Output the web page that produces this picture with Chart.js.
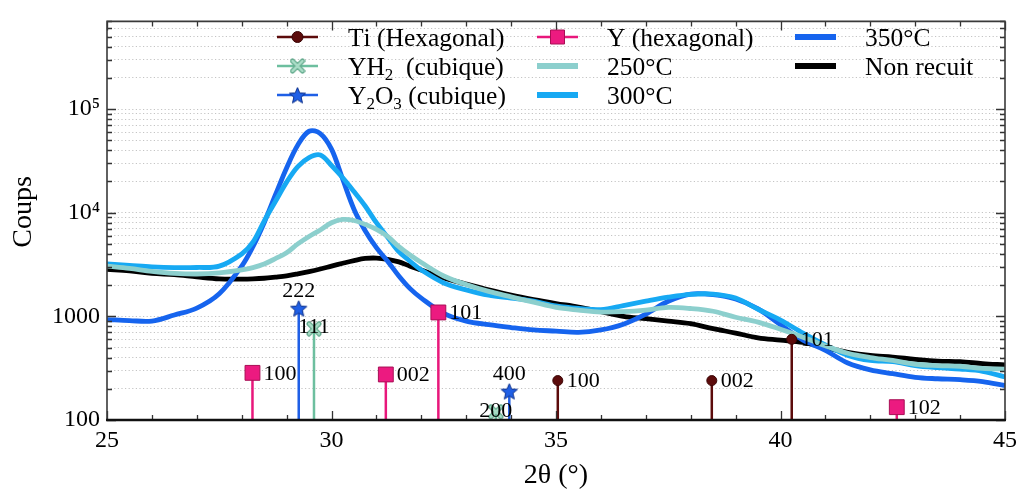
<!DOCTYPE html>
<html><head><meta charset="utf-8">
<script src="https://cdn.jsdelivr.net/npm/chart.js@4.4.1/dist/chart.umd.min.js"></script>
<style>html,body{margin:0;padding:0;background:#fff;}#wrap{width:1023px;height:495px;}</style>
</head><body><div id="wrap"><canvas id="c" width="1023" height="495"></canvas></div>
<script>
// ---------- data ----------
const theta = [25,25.5,26,26.5,27,27.5,28,
  28.25,28.5,28.75,29,29.25,29.5,29.75,30,30.25,30.5,30.75,31,31.25,31.5,31.75,32,
  32.5,33,33.5,34,34.5,35,35.5,36,36.5,37,37.5,38,38.5,39,39.5,40,40.5,41,41.5,42,42.5,43,43.5,44,44.5,45];
const nonRecuit = [2840,2750,2600,2520,2400,2300,2290,
  2300,2330,2390,2460,2570,2700,2860,3050,3250,3450,3620,3650,3550,3350,3050,2800,
  2350,2050,1800,1600,1450,1330,1230,1110,1000,950,900,850,760,690,620,590,560,500,450,420,405,385,370,365,350,340];
const recuit250 = [3050,2900,2720,2600,2560,2620,2800,
  2950,3200,3600,4100,5000,5900,6800,8000,8600,8400,7700,6900,5900,4700,3900,3300,
  2450,2030,1740,1540,1370,1220,1150,1100,1110,1150,1220,1190,1120,980,880,750,630,520,440,400,375,345,335,330,315,310];
const recuit300 = [3200,3100,3000,2950,2960,3050,4000,
  5200,8300,12800,19700,27800,34000,36000,28500,21700,16000,11600,8000,5800,4200,3400,2800,
  2100,1800,1600,1500,1400,1260,1190,1160,1270,1400,1530,1630,1640,1500,1170,920,690,530,420,375,365,335,320,310,295,260];
const recuit350 = [930,910,900,1030,1200,1650,3050,
  4700,8000,14800,27000,45000,61000,58000,41000,21000,10800,6700,4600,3400,2450,1850,1500,
  1070,900,830,780,740,720,700,740,840,1050,1400,1640,1620,1470,1180,830,590,470,355,305,280,258,250,245,235,215];

const tiPos = [35.04, 38.47, 40.25];
const tiInt = [240, 240, 600];
const tiHkl = ['100', '002', '101'];
const yh2Pos = [29.61, 33.66];
const yh2Int = [760, 120];
const yh2Hkl = ['111', '200'];
const y2o3Pos = [29.27, 33.96];
const y2o3Int = [1200, 190];
const y2o3Hkl = ['222', '400'];
const yPos = [28.24, 31.21, 32.38, 42.59];
const yInt = [285, 275, 1090, 133];
const yHkl = ['100', '002', '101', '102'];

const seriesLabels = ['Ti (Hexagonal)', 'YH₂  (cubique)', 'Y₂O₃ (cubique)', 'Y (hexagonal)', '250°C', '300°C', '350°C', 'Non recuit'];
const xTickValues = [25, 30, 35, 40, 45];
const yTickValues = [100, 1000, 10000, 100000];
const yTickLabels = ['100', '1000', '10⁴', '10⁵'];
const xAxisTitle = '2θ (°)';
const yAxisTitle = 'Coups';

// ---------- helpers ----------
const X_MIN = 25, X_MAX = 45, Y_MIN = 100, Y_MAX = 7e5;
const FONT = "'Liberation Serif', 'Times New Roman', serif";

function curve(vals) { return theta.map((t, i) => ({ x: t, y: vals[i] })); }
function stems(pos, inten, hkl) {
  const out = [];
  pos.forEach((p, i) => {
    out.push({ x: p, y: Y_MIN });
    out.push({ x: p, y: inten[i], top: true, hkl: hkl[i] });
    out.push({ x: p, y: null });
  });
  return out;
}
function makeStar(r, fill, stroke) {
  const s = Math.ceil(r * 2 + 4);
  const c = document.createElement('canvas'); c.width = s; c.height = s;
  const g = c.getContext('2d');
  g.beginPath();
  for (let k = 0; k < 10; k++) {
    const a = -Math.PI / 2 + k * Math.PI / 5;
    const rr = k % 2 ? r * 0.45 : r;
    g.lineTo(s / 2 + rr * Math.cos(a), s / 2 + 1 + rr * Math.sin(a));
  }
  g.closePath(); g.fillStyle = fill; g.fill(); g.lineWidth = 1; g.strokeStyle = stroke; g.stroke();
  return c;
}
function makeCross(r, fill, stroke) {
  const s = Math.ceil(r * 2 + 6);
  const c = document.createElement('canvas'); c.width = s; c.height = s;
  const g = c.getContext('2d'); const m = s / 2;
  g.lineCap = 'round';
  [[5, stroke], [2.5, fill]].forEach(([w, col]) => {
    g.lineWidth = w; g.strokeStyle = col; g.beginPath();
    g.moveTo(m - r, m - r); g.lineTo(m + r, m + r); g.moveTo(m + r, m - r); g.lineTo(m - r, m + r); g.stroke();
  });
  return c;
}
const starImg = makeStar(8.5, '#1f5fe6', '#0b2f8a');
const crossImg = makeCross(5, '#a9dcc6', '#5fa88a');

const topOnly = (r) => (c) => (c.raw && c.raw.top ? r : 0);

function stemSet(label, data, color, style, radius, bg, bd, mode, off) {
  return {
    type: 'line', label, data, borderColor: color, backgroundColor: bg, borderWidth: 2.5,
    tension: 0, spanGaps: false, pointStyle: style, pointRadius: topOnly(radius),
    pointBackgroundColor: bg, pointBorderColor: bd, pointBorderWidth: 1,
    hklMode: mode, hklOffset: off, isPhase: true
  };
}
function curveSet(label, vals, color) {
  return {
    type: 'line', label, data: curve(vals), borderColor: color, backgroundColor: color,
    borderWidth: 4.8, pointRadius: 0, tension: 0.35, borderJoinStyle: 'round', isPhase: false
  };
}

const datasets = [
  stemSet(seriesLabels[0], stems(tiPos, tiInt, tiHkl), '#5c0b0b', 'circle', 5, '#5c0b0b', '#3a0505', 'right', 9),
  stemSet(seriesLabels[1], stems(yh2Pos, yh2Int, yh2Hkl), '#6dbf9f', crossImg, 6, '#a9dcc6', '#5fa88a', 'center', 0),
  stemSet(seriesLabels[2], stems(y2o3Pos, y2o3Int, y2o3Hkl), '#1f5fe6', starImg, 8, '#1f5fe6', '#0b2f8a', 'above', 17),
  stemSet(seriesLabels[3], stems(yPos, yInt, yHkl), '#e8177b', 'rect', 10.5, '#ec1a80', '#a80f55', 'right', 11),
  curveSet(seriesLabels[4], recuit250, '#8ccfcd'),
  curveSet(seriesLabels[5], recuit300, '#17a9f3'),
  curveSet(seriesLabels[6], recuit350, '#1664ee'),
  curveSet(seriesLabels[7], nonRecuit, '#000000')
];

// ---------- rich text (sub/superscripts) ----------
const SUB = { '₂': '2', '₃': '3' };
function drawRich(ctx, text, x, y, size) {
  let cx = x;
  for (const ch of text) {
    if (SUB[ch]) {
      ctx.font = `${Math.round(size * 0.66)}px ${FONT}`;
      ctx.fillText(SUB[ch], cx, y + size * 0.2);
      cx += ctx.measureText(SUB[ch]).width;
    } else {
      ctx.font = `${size}px ${FONT}`;
      ctx.fillText(ch, cx, y);
      cx += ctx.measureText(ch).width;
    }
  }
}

// ---------- decoration plugin ----------
const decor = {
  id: 'decor',
  afterDatasetsDraw(chart) {
    const ctx = chart.ctx;
    ctx.save();
    ctx.fillStyle = '#000';
    ctx.font = `22px ${FONT}`;
    chart.data.datasets.forEach((ds, di) => {
      if (!ds.isPhase) return;
      const meta = chart.getDatasetMeta(di);
      ds.data.forEach((pt, i) => {
        if (!pt.top) return;
        const el = meta.data[i];
        const px = el.x, py = el.y;
        ctx.textBaseline = 'middle';
        if (ds.hklMode === 'right') {
          ctx.textAlign = 'left';
          ctx.fillText(pt.hkl, px + ds.hklOffset, py + 1);
        } else if (ds.hklMode === 'above') {
          ctx.textAlign = 'center';
          ctx.fillText(pt.hkl, px, py - ds.hklOffset);
        } else {
          ctx.textAlign = 'center';
          ctx.fillText(pt.hkl, px, py - 1);
        }
      });
    });
    ctx.restore();
  },
  afterDraw(chart) {
    const ctx = chart.ctx;
    const a = chart.chartArea;
    const xs = chart.scales.x, ys = chart.scales.y;
    ctx.save();
    // inward ticks
    ctx.strokeStyle = '#333'; ctx.lineWidth = 1.3;
    for (let v = X_MIN; v <= X_MAX; v++) {
      const px = Math.round(xs.getPixelForValue(v)) + 0.5;
      const L = v % 5 === 0 ? 9 : 5;
      ctx.beginPath();
      ctx.moveTo(px, a.bottom); ctx.lineTo(px, a.bottom - L);
      ctx.moveTo(px, a.top); ctx.lineTo(px, a.top + L);
      ctx.stroke();
    }
    ys.ticks.forEach(t => {
      const py = Math.round(ys.getPixelForValue(t.value)) + 0.5;
      const L = yTickValues.includes(t.value) ? 9 : 5;
      ctx.beginPath();
      ctx.moveTo(a.left, py); ctx.lineTo(a.left + L, py);
      ctx.moveTo(a.right, py); ctx.lineTo(a.right - L, py);
      ctx.stroke();
    });
    // frame
    ctx.strokeStyle = '#3a3a3a'; ctx.lineWidth = 1.6;
    ctx.beginPath();
    ctx.moveTo(a.left, a.bottom); ctx.lineTo(a.left, a.top); ctx.lineTo(a.right, a.top); ctx.lineTo(a.right, a.bottom);
    ctx.stroke();
    ctx.strokeStyle = '#111'; ctx.lineWidth = 2.6;
    ctx.beginPath(); ctx.moveTo(a.left - 1, a.bottom); ctx.lineTo(a.right + 1, a.bottom); ctx.stroke();

    // axis titles
    ctx.fillStyle = '#000';
    ctx.font = `28px ${FONT}`;
    ctx.textAlign = 'center'; ctx.textBaseline = 'middle';
    ctx.fillText(xAxisTitle, (a.left + a.right) / 2, 476);
    ctx.save();
    ctx.translate(24, 212);
    ctx.rotate(-Math.PI / 2);
    ctx.fillText(yAxisTitle, 0, 0);
    ctx.restore();

    // legend (column-major, 3 rows)
    const colSym = [277, 537, 795], colText = [348, 607, 865], rowY = [37, 66, 95];
    chart.data.datasets.forEach((ds, i) => {
      const col = Math.floor(i / 3), row = i % 3;
      const sx = colSym[col], sy = rowY[row];
      ctx.lineCap = 'butt';
      ctx.strokeStyle = ds.borderColor;
      ctx.lineWidth = ds.isPhase ? 2.5 : 6;
      ctx.beginPath(); ctx.moveTo(sx, sy); ctx.lineTo(sx + 41, sy); ctx.stroke();
      if (ds.isPhase) {
        if (typeof ds.pointStyle === 'string') {
          ctx.fillStyle = ds.pointBackgroundColor; ctx.strokeStyle = ds.pointBorderColor; ctx.lineWidth = 1;
          ctx.beginPath();
          if (ds.pointStyle === 'circle') { ctx.arc(sx + 20.5, sy, 5.5, 0, Math.PI * 2); }
          else { ctx.rect(sx + 20.5 - 7, sy - 7, 14, 14); }
          ctx.fill(); ctx.stroke();
        } else {
          Chart.helpers.drawPoint(ctx, { pointStyle: ds.pointStyle, radius: 6, borderWidth: 1, rotation: 0 }, sx + 20.5, sy);
        }
      }
      ctx.fillStyle = '#000'; ctx.textAlign = 'left'; ctx.textBaseline = 'alphabetic';
      drawRich(ctx, ds.label, colText[col], sy + 9, 25.5);
    });
    ctx.restore();
  }
};

new Chart(document.getElementById('c'), {
  type: 'line',
  data: { datasets },
  plugins: [decor],
  options: {
    responsive: false, animation: false, events: [],
    layout: { padding: { top: 10, right: 18, left: 0, bottom: 0 } },
    plugins: { legend: { display: false }, tooltip: { enabled: false } },
    scales: {
      x: {
        type: 'linear', min: X_MIN, max: X_MAX,
        afterFit(s) { s.height = 75; },
        afterBuildTicks(s) { s.ticks = xTickValues.map(v => ({ value: v })); },
        ticks: { font: { family: FONT, size: 24 }, color: '#000', padding: 6, maxRotation: 0, autoSkip: false },
        grid: { display: false, drawTicks: false },
        border: { display: false }
      },
      y: {
        type: 'logarithmic', min: Y_MIN, max: Y_MAX,
        afterFit(s) { s.width = 107; },
        afterBuildTicks(s) {
          const t = [];
          yTickValues.forEach(d => { for (let m = 1; m <= 9; m++) { if (m * d <= Y_MAX) t.push({ value: m * d }); } });
          s.ticks = t;
        },
        ticks: {
          callback: (v) => { const i = yTickValues.indexOf(v); return i >= 0 ? yTickLabels[i] : ''; },
          font: { family: FONT, size: 24 }, color: '#000', padding: 7, autoSkip: false
        },
        grid: { color: '#c4c4c4', lineWidth: 1, drawTicks: false },
        border: { display: false, dash: [1.2, 2.4] }
      }
    }
  }
});
</script>
</body></html>
